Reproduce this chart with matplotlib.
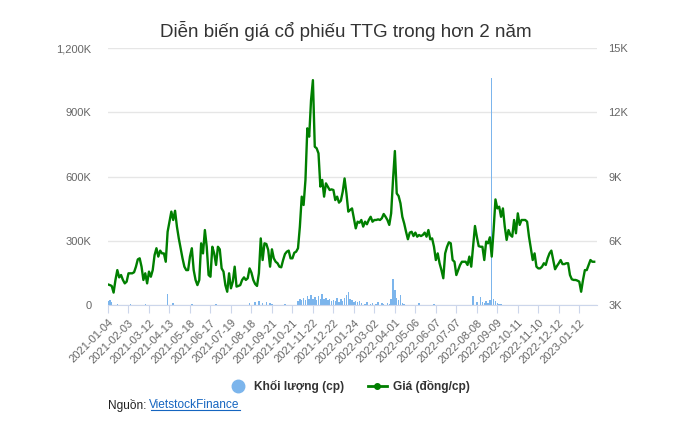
import numpy as np
import matplotlib
matplotlib.use("Agg")
import matplotlib.pyplot as plt
from matplotlib.lines import Line2D
from matplotlib.ticker import FuncFormatter

plt.rcParams['font.family'] = ['Liberation Sans', 'DejaVu Sans']

title = "Diễn biến giá cổ phiếu TTG trong hơn 2 năm"

# one sample every 2 trading days, starting 2021-01-04
step = 2
n_days = 525

# closing price, thousand VND
price = [
    3.96, 3.93, 3.89, 3.58, 4.17, 4.63, 4.29, 4.40, 4.17, 4.01,
    4.09, 4.48, 4.48, 4.48, 4.53, 4.79, 5.13, 5.18, 4.79, 4.17,
    4.48, 4.01, 4.56, 4.32, 4.63, 5.33, 5.65, 5.26, 5.54, 5.41,
    5.41, 5.02, 6.42, 6.89, 7.36, 6.97, 7.40, 6.66, 6.11, 5.65,
    5.18, 4.79, 4.63, 4.63, 5.26, 5.65, 4.63, 4.17, 3.93, 4.17,
    5.88, 5.41, 6.50, 5.72, 4.40, 4.32, 5.72, 5.41, 4.87, 5.72,
    5.60, 4.71, 4.56, 3.93, 3.62, 4.48, 3.78, 4.09, 4.79, 3.86,
    3.89, 3.93, 4.17, 4.29, 4.17, 4.25, 4.71, 4.51, 4.17, 3.98,
    3.89, 4.48, 6.11, 5.10, 5.88, 5.85, 5.57, 4.79, 5.60, 5.18,
    5.02, 4.95, 4.79, 4.76, 5.10, 5.38, 5.49, 5.54, 5.18, 5.18,
    5.44, 5.49, 5.65, 6.66, 8.06, 7.67, 8.84, 11.25, 10.86, 12.57,
    13.50, 10.39, 10.32, 10.08, 8.53, 8.84, 8.06, 8.68, 8.53, 8.37,
    8.40, 8.37, 7.90, 8.06, 7.78, 7.87, 8.29, 8.91, 8.21, 7.36,
    7.44, 7.51, 7.05, 6.58, 6.89, 6.84, 6.97, 6.66, 6.89, 6.77,
    6.97, 7.12, 6.89, 6.97, 6.97, 7.00, 6.97, 7.05, 7.25, 7.12,
    6.97, 6.74, 7.28, 8.84, 10.19, 8.21, 8.09, 7.75, 7.12, 6.81,
    6.42, 6.07, 6.38, 6.42, 6.22, 6.38, 6.19, 6.27, 6.22, 6.27,
    6.38, 6.19, 6.50, 6.07, 6.11, 5.72, 5.10, 5.41, 4.95, 4.63,
    4.25, 5.41, 5.72, 5.93, 5.88, 5.10, 5.02, 4.40, 4.63, 4.87,
    5.02, 5.02, 5.02, 4.87, 5.26, 4.79, 5.72, 6.69, 6.19, 5.75,
    5.72, 5.72, 5.10, 5.96, 5.88, 6.16, 5.26, 6.50, 7.93, 7.51,
    7.59, 7.12, 7.51, 6.66, 6.04, 6.50, 6.27, 6.19, 6.97, 6.35,
    7.28, 6.74, 6.97, 6.97, 6.97, 6.89, 6.19, 5.65, 5.10, 5.41,
    4.79, 4.71, 4.71, 4.79, 4.95, 4.87, 5.18, 5.41, 5.54, 5.10,
    4.67, 4.82, 4.95, 5.10, 4.91, 4.91, 4.95, 4.95, 4.40, 4.20,
    4.17, 4.17, 4.14, 4.09, 3.62, 4.17, 4.63, 4.63, 4.87, 5.10,
    5.02, 5.02,
]

# traded volume, thousand shares (same sampling)
volume = [0] * len(price)
volume[0:6] = [18, 22, 14, 2, 0, 3]
volume[12] = 4
volume[20] = 3
volume[32] = 50
volume[35] = 8
volume[45] = 3
volume[58] = 4
volume[76] = 8
volume[79] = 12
volume[81] = 18
volume[83] = 10
volume[85] = 12
volume[87] = 8
volume[88] = 6
volume[95] = 3
volume[102:136] = [18, 30, 22, 35, 25, 40, 28, 45, 30, 38, 25, 42, 30, 50, 28, 35, 22,
                   30, 20, 25, 18, 32, 15, 28, 20, 35, 45, 62, 30, 25, 15, 20, 12, 18]
volume[136:152] = [8, 0, 5, 12, 0, 6, 10, 0, 4, 15, 0, 8, 5, 0, 10, 6]
volume[152:160] = [30, 120, 70, 35, 25, 45, 10, 5]
volume[167] = 10
volume[175] = 5
volume[196] = 44
volume[198] = 15
volume[200] = 39
volume[201:212] = [12, 8, 18, 10, 22, 1058, 28, 18, 10, 6, 4]

tick_labels = ['2021-01-04', '2021-02-03', '2021-03-12', '2021-04-13', '2021-05-18',
               '2021-06-17', '2021-07-19', '2021-08-18', '2021-09-21', '2021-10-21',
               '2021-11-22', '2021-12-22', '2022-01-24', '2022-03-02', '2022-04-01',
               '2022-05-06', '2022-06-07', '2022-07-07', '2022-08-08', '2022-09-09',
               '2022-10-11', '2022-11-10', '2022-12-12', '2023-01-12']
tick_every = 22

x = np.arange(len(price)) * step
grey = '#666666'

fig = plt.figure(figsize=(6.78, 4.33), dpi=100)
ax = fig.add_axes([0.1593, 0.2956, 0.7212, 0.5935])
ax2 = ax.twinx()

ax.bar(x, volume, width=1.6, color='#7cb5ec', linewidth=0, antialiased=False)
ax.set_ylim(0, 1200)
ax.set_yticks([0, 300, 600, 900, 1200])
ax.yaxis.set_major_formatter(FuncFormatter(lambda v, p: '0' if v == 0 else f'{int(v):,}K'))

ax2.plot(x, np.array(price) * 1000, color='#007f00', linewidth=1.7)
ax2.set_ylim(3000, 15000)
ax2.set_yticks([3000, 6000, 9000, 12000, 15000])
ax2.yaxis.set_major_formatter(FuncFormatter(lambda v, p: f'{int(v / 1000)}K'))

ax.set_xlim(0, n_days)
ax.set_xticks(np.arange(len(tick_labels)) * tick_every)
ax.set_xticklabels(tick_labels, rotation=45, ha='right', rotation_mode='anchor')

ax.grid(axis='y', color='#e6e6e6', linewidth=1)
ax.set_axisbelow(True)
for a in (ax, ax2):
    for s in ('top', 'left', 'right'):
        a.spines[s].set_visible(False)
    a.spines['bottom'].set_color('#ccd6eb')
ax2.spines['bottom'].set_visible(False)
ax.tick_params(axis='x', colors='#ccd6eb', length=6, labelcolor=grey, labelsize=8, pad=3)
ax.tick_params(axis='y', length=0, labelcolor=grey, labelsize=8, pad=12)
ax2.tick_params(axis='y', length=0, labelcolor=grey, labelsize=8, pad=8)

fig.text(0.51, 0.928, title, ha='center', va='center', fontsize=13.5, color='#333333')

handles = [
    Line2D([], [], marker='o', linestyle='none', markersize=9, color='#7cb5ec'),
    Line2D([], [], marker='o', markersize=4, color='#007f00', linewidth=2),
]
fig.legend(handles, ['Khối lượng (cp)', 'Giá (đồng/cp)'], loc='center', ncol=2,
           bbox_to_anchor=(0.515, 0.108), frameon=False, handlelength=1.6,
           columnspacing=2.0, handletextpad=0.5,
           prop={'weight': 'bold', 'size': 8.6})
for t in fig.legends[0].get_texts():
    t.set_color('#333333')

src = fig.text(0.159, 0.064, 'Nguồn: ', fontsize=8.6, color='#222222', va='center')
fig.canvas.draw()
bb = src.get_window_extent()
x0 = bb.x1 / fig.bbox.width
link = fig.text(x0, 0.064, 'VietstockFinance', fontsize=8.6, color='#1565c0', va='center')
fig.canvas.draw()
lb = link.get_window_extent()
fig.add_artist(Line2D([lb.x0 / fig.bbox.width + 0.002, lb.x1 / fig.bbox.width],
                      [lb.y0 / fig.bbox.height + 0.003] * 2, color='#1565c0', linewidth=0.8))

fig.savefig('out.png', dpi=100)
